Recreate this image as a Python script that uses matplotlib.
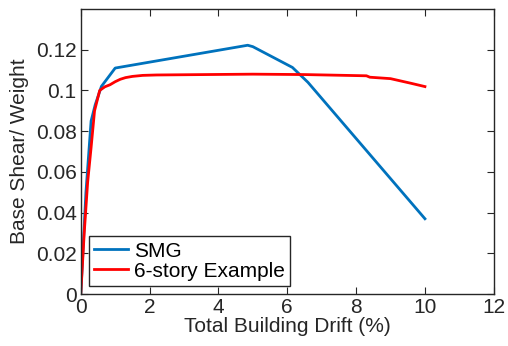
import numpy as np
import matplotlib as mpl
mpl.use("Agg")
import matplotlib.pyplot as plt

plt.rcParams['font.family'] = ['Liberation Sans', 'DejaVu Sans']

# SMG pushover curve
smg_x = [0, 0.15, 0.3, 0.42, 0.6, 1.0, 4.85, 5.0, 6.15, 6.6, 10.0]
smg_y = [0, 0.05, 0.085, 0.093, 0.102, 0.111, 0.1222, 0.1215, 0.1113, 0.104, 0.037]

# 6-story example
ex_x = [0, 0.1, 0.2, 0.3, 0.4, 0.55, 0.7, 0.85, 1.0, 1.15, 1.3, 1.5, 1.8, 2.2, 5.0, 6.5,
        8.3, 8.4, 9.0, 9.6, 10.0]
ex_y = [0, 0.03, 0.055, 0.072, 0.09, 0.1, 0.1018, 0.1028, 0.1043, 0.1055, 0.1063, 0.1069,
        0.1074, 0.1076, 0.108, 0.1078, 0.1072, 0.1065, 0.1058, 0.1035, 0.1019]

dark = '#262626'
fig = plt.figure(figsize=(5.08, 3.46), dpi=100)
ax = fig.add_axes([0.159, 0.150, 0.813, 0.824])
ax.plot(smg_x, smg_y, color=(0, 0.447, 0.741), lw=2, label='SMG')
ax.plot(ex_x, ex_y, color='red', lw=2, label='6-story Example')

ax.set_xlim(0, 12)
ax.set_ylim(0, 0.14)
ax.set_xticks(np.arange(0, 13, 2))
ax.set_yticks(np.arange(0, 0.13, 0.02))
ax.set_yticklabels(['0', '0.02', '0.04', '0.06', '0.08', '0.1', '0.12'])
ax.tick_params(direction='in', top=True, right=True, labelsize=15, length=5,
               color=dark, labelcolor=dark)
ax.tick_params(axis='x', pad=3)
ax.tick_params(axis='y', pad=3)
for s in ax.spines.values():
    s.set_color(dark)
    s.set_linewidth(1.0)
ax.set_xlabel('Total Building Drift (%)', fontsize=15, labelpad=0, color=dark)
ax.set_ylabel('Base Shear/ Weight', fontsize=15, labelpad=5, color=dark)

leg = ax.legend(loc='lower left', fontsize=15, handlelength=1.6, fancybox=False,
                framealpha=1, edgecolor=dark, borderpad=0.25, labelspacing=0.05,
                handletextpad=0.3, borderaxespad=0.4)
leg.get_frame().set_linewidth(1.0)
for t in leg.get_texts():
    t.set_color('black')

fig.savefig('out.png', dpi=100)
